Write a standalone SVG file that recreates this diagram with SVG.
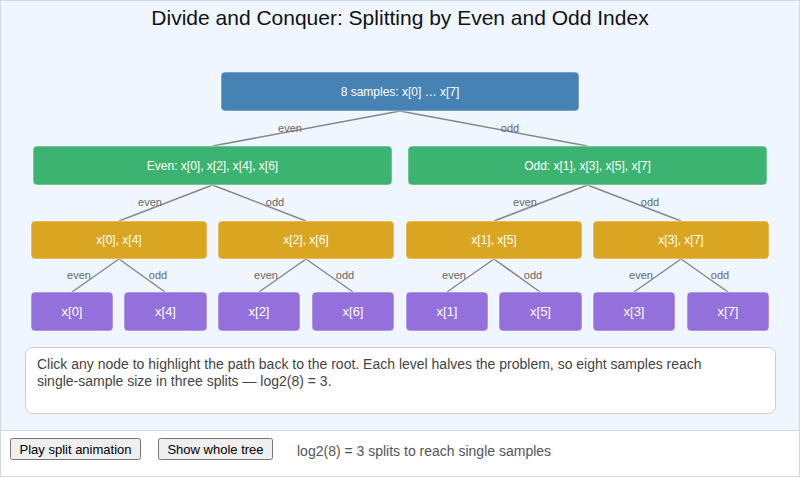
<svg xmlns="http://www.w3.org/2000/svg" width="800" height="477" viewBox="0 0 800 477">
<style>
text{font-family:"Liberation Sans",Arial,sans-serif}
.n rect{stroke:#ffffff;stroke-opacity:0.5;stroke-width:1}
.n text{fill:#fff;font-size:12px;text-anchor:middle;dominant-baseline:central}
.root rect{fill:#4682b4}
.l1 rect{fill:#3cb371}
.l2 rect{fill:#daa520}
.l3 rect{fill:#9370db}
.l3 text{font-size:13px}
.e line{stroke:#888;stroke-width:1.5}
.e text{fill:#666;font-size:11px;text-anchor:middle}
.btn rect{fill:#efefef;stroke:#767676;stroke-width:1}
.btn text{font-size:13px;fill:#000;text-anchor:middle;dominant-baseline:central}
</style>
<rect x="0" y="0" width="800" height="477" fill="#ffffff"/>
<rect x="0.5" y="0.5" width="799" height="430" fill="#eff6ff" stroke="#d3d9e0"/>
<rect x="0.5" y="430.5" width="799" height="46" fill="#ffffff" stroke="#d3d9e0"/>
<text x="400" y="25" font-size="21" text-anchor="middle" fill="#111">Divide and Conquer: Splitting by Even and Odd Index</text>

<g id="connectors" class="e">
<line x1="400" y1="111" x2="212.5" y2="146"/>
<line x1="400" y1="111" x2="587.5" y2="146"/>
<line x1="212.5" y1="185" x2="119" y2="221"/>
<line x1="212.5" y1="185" x2="306" y2="221"/>
<line x1="587.5" y1="185" x2="494" y2="221"/>
<line x1="587.5" y1="185" x2="681" y2="221"/>
<line x1="119" y1="259" x2="72" y2="292"/>
<line x1="119" y1="259" x2="165" y2="292"/>
<line x1="306" y1="259" x2="259" y2="292"/>
<line x1="306" y1="259" x2="353" y2="292"/>
<line x1="494" y1="259" x2="447" y2="292"/>
<line x1="494" y1="259" x2="540" y2="292"/>
<line x1="681" y1="259" x2="634" y2="292"/>
<line x1="681" y1="259" x2="728" y2="292"/>
<text x="290" y="132">even</text>
<text x="510" y="132">odd</text>
<text x="150" y="206">even</text>
<text x="275" y="206">odd</text>
<text x="525" y="206">even</text>
<text x="650" y="206">odd</text>
<text x="79" y="279">even</text>
<text x="158" y="279">odd</text>
<text x="266" y="279">even</text>
<text x="345" y="279">odd</text>
<text x="454" y="279">even</text>
<text x="533" y="279">odd</text>
<text x="641" y="279">even</text>
<text x="720" y="279">odd</text>
</g>

<g id="root" class="n root"><rect x="221" y="72" width="358" height="39" rx="4"/><text x="400" y="91.5">8 samples: x[0] … x[7]</text></g>
<g id="even" class="n l1"><rect x="33" y="146" width="359" height="39" rx="4"/><text x="212.5" y="165.5">Even: x[0], x[2], x[4], x[6]</text></g>
<g id="odd" class="n l1"><rect x="408" y="146" width="359" height="39" rx="4"/><text x="587.5" y="165.5">Odd: x[1], x[3], x[5], x[7]</text></g>

<g id="n04" class="n l2"><rect x="31" y="221" width="176" height="38" rx="4"/><text x="119" y="240">x[0], x[4]</text></g>
<g id="n26" class="n l2"><rect x="218" y="221" width="176" height="38" rx="4"/><text x="306" y="240">x[2], x[6]</text></g>
<g id="n15" class="n l2"><rect x="406" y="221" width="176" height="38" rx="4"/><text x="494" y="240">x[1], x[5]</text></g>
<g id="n37" class="n l2"><rect x="593" y="221" width="176" height="38" rx="4"/><text x="681" y="240">x[3], x[7]</text></g>

<g id="x0" class="n l3"><rect x="31" y="292" width="82" height="39" rx="4"/><text x="72" y="311.5">x[0]</text></g>
<g id="x4" class="n l3"><rect x="124" y="292" width="83" height="39" rx="4"/><text x="165.5" y="311.5">x[4]</text></g>
<g id="x2" class="n l3"><rect x="218" y="292" width="82" height="39" rx="4"/><text x="259" y="311.5">x[2]</text></g>
<g id="x6" class="n l3"><rect x="312" y="292" width="82" height="39" rx="4"/><text x="353" y="311.5">x[6]</text></g>
<g id="x1" class="n l3"><rect x="406" y="292" width="82" height="39" rx="4"/><text x="447" y="311.5">x[1]</text></g>
<g id="x5" class="n l3"><rect x="499" y="292" width="83" height="39" rx="4"/><text x="540.5" y="311.5">x[5]</text></g>
<g id="x3" class="n l3"><rect x="593" y="292" width="82" height="39" rx="4"/><text x="634" y="311.5">x[3]</text></g>
<g id="x7" class="n l3"><rect x="687" y="292" width="82" height="39" rx="4"/><text x="728" y="311.5">x[7]</text></g>

<g id="info">
<rect x="25.5" y="347.5" width="750" height="66" rx="7" fill="#ffffff" stroke="#cccccc"/>
<text x="37" y="369" font-size="14" fill="#444">Click any node to highlight the path back to the root. Each level halves the problem, so eight samples reach</text>
<text x="37" y="386" font-size="14" fill="#444">single-sample size in three splits — log2(8) = 3.</text>
</g>

<g id="btn-play" class="btn"><rect x="10.5" y="438.5" width="130" height="21" rx="2"/><text x="75.5" y="449">Play split animation</text></g>
<g id="btn-show" class="btn"><rect x="158.5" y="438.5" width="114" height="21" rx="2"/><text x="215.5" y="449">Show whole tree</text></g>
<text x="297" y="456" font-size="14" fill="#555">log2(8) = 3 splits to reach single samples</text>
</svg>
